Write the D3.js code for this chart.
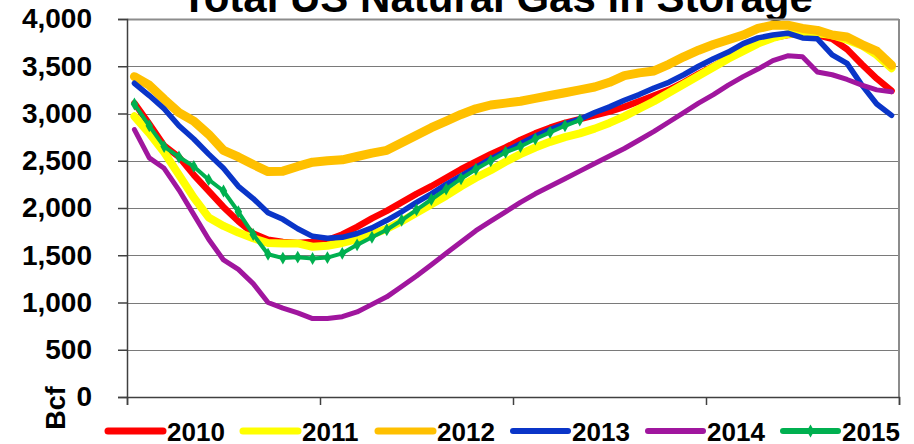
<!DOCTYPE html>
<html>
<head>
<meta charset="UTF-8">
<title>Total US Natural Gas in Storage</title>
<script src="https://d3js.org/d3.v7.min.js"></script>
<style>
  body { margin: 0; background: #fff; }
  text { font-family: Arial, "Liberation Sans", sans-serif; font-weight: bold; }
</style>
</head>
<body>
<div id="chart"></div>
<script>

// Weekly storage, Bcf (52 weeks per year)

var weeks = d3.range(1, 53);
var years = ["2010", "2011", "2012", "2013", "2014", "2015"];

var s2010 = [3110, 2890, 2660, 2540, 2350, 2180, 2010, 1860, 1730, 1665, 1640, 1630, 1640, 1660, 1720, 1800, 1890, 1970, 2060, 2150,
             2230, 2320, 2410, 2490, 2570, 2640, 2720, 2790, 2850, 2900, 2940, 2980, 3020, 3070, 3130, 3190, 3250, 3330, 3420, 3500,
             3590, 3670, 3740, 3800, 3830, 3840, 3830, 3790, 3680, 3520, 3370, 3240];
var s2011 = [2970, 2790, 2590, 2350, 2110, 1900, 1810, 1740, 1680, 1630, 1625, 1625, 1590, 1600, 1630, 1670, 1720, 1780, 1860, 1950,
             2040, 2130, 2230, 2320, 2400, 2490, 2570, 2640, 2700, 2750, 2790, 2840, 2900, 2970, 3050, 3130, 3220, 3310, 3400, 3490,
             3580, 3660, 3740, 3800, 3840, 3850, 3850, 3830, 3780, 3720, 3620, 3480];
var s2012 = [3390, 3300, 3150, 3010, 2920, 2780, 2610, 2540, 2460, 2385, 2390, 2440, 2485, 2500, 2510, 2545, 2580, 2610, 2690, 2770,
             2850, 2920, 2990, 3050, 3090, 3110, 3130, 3160, 3190, 3220, 3250, 3280, 3330, 3400, 3430, 3450, 3520, 3600, 3670, 3730,
             3780, 3830, 3900, 3935, 3935, 3900, 3880, 3830, 3810, 3730, 3660, 3510];
var s2013 = [3320, 3190, 3050, 2870, 2730, 2570, 2420, 2230, 2100, 1950, 1880, 1780, 1700, 1680, 1690, 1730, 1790, 1870, 1960, 2060,
             2150, 2250, 2340, 2430, 2520, 2600, 2680, 2760, 2830, 2890, 2940, 3010, 3070, 3140, 3200, 3270, 3330, 3410, 3500, 3580,
             3650, 3740, 3800, 3830, 3850, 3800, 3790, 3620, 3530, 3300, 3100, 2980];
var s2014 = [2830, 2530, 2420, 2190, 1930, 1670, 1450, 1350, 1200, 1000, 940, 890, 830, 830, 850, 900, 980, 1060, 1170, 1280,
             1400, 1520, 1640, 1760, 1860, 1960, 2060, 2150, 2230, 2310, 2390, 2470, 2550, 2630, 2720, 2810, 2910, 3010, 3110, 3200,
             3300, 3390, 3470, 3560, 3610, 3600, 3440, 3410, 3360, 3300, 3250, 3230];
var s2015 = [3100, 2870, 2650, 2540, 2440, 2300, 2180, 1960, 1720, 1510, 1470, 1480, 1465, 1475, 1520, 1610, 1690, 1770, 1870, 1980,
             2090, 2200, 2310, 2410, 2500, 2590, 2650, 2730, 2800, 2870, 2930];

var yTicks = [0, 500, 1000, 1500, 2000, 2500, 3000, 3500, 4000];
var quarterTicks = [0, 13, 26, 39, 52];

var seriesValues = [s2010, s2011, s2012, s2013, s2014, s2015];
var colors = ["#ff0000", "#ffff00", "#ffc000", "#0a35c8", "#a0169e", "#00b050"];
var widths = [6.5, 8, 9, 5.5, 5, 4];

// Sizes

var w = 914;
var h = 444;
var margin = {top: 19, right: 15, bottom: 47, left: 127};
var innerW = w - margin.left - margin.right;
var innerH = h - margin.top - margin.bottom;

var svg = d3.select("#chart")
    .append("svg")
    .attr("width", w)
    .attr("height", h);

var x = d3.scaleBand()
    .domain(weeks)
    .range([margin.left, margin.left + innerW]);

var xEdge = d3.scaleLinear()
    .domain([0, 52])
    .range([margin.left, margin.left + innerW]);

var y = d3.scaleLinear()
    .domain([0, 4000])
    .range([margin.top + innerH, margin.top]);

// Title (cut off by the top of the picture, as in the original)

svg.append("text")
    .attr("x", 497)
    .attr("y", 12)
    .attr("text-anchor", "middle")
    .attr("font-size", "42px")
    .text("Total US Natural Gas in Storage");

// Gridlines

svg.append("g")
    .selectAll("line")
    .data(yTicks.slice(1))
    .enter()
    .append("line")
    .attr("x1", margin.left)
    .attr("x2", margin.left + innerW)
    .attr("y1", function(d) { return Math.round(y(d)) + 0.5; })
    .attr("y2", function(d) { return Math.round(y(d)) + 0.5; })
    .attr("stroke", function(d) { return d === 4000 ? "#8c8c8c" : "#7a7a7a"; })
    .attr("stroke-width", function(d) { return d === 4000 ? 2 : 1; });

// Right border of plot area

svg.append("line")
    .attr("x1", margin.left + innerW)
    .attr("x2", margin.left + innerW)
    .attr("y1", margin.top)
    .attr("y2", margin.top + innerH)
    .attr("stroke", "#8c8c8c")
    .attr("stroke-width", 2);

// Axes

var yAxis = d3.axisLeft(y)
    .tickValues(yTicks)
    .tickSize(9)
    .tickPadding(26)
    .tickFormat(d3.format(","));

var yg = svg.append("g")
    .attr("transform", "translate(" + margin.left + ",0)")
    .call(yAxis);
yg.selectAll("text")
    .attr("font-size", "28px")
    .attr("font-family", "Arial, 'Liberation Sans', sans-serif")
    .attr("font-weight", "bold")
    .attr("fill", "#000");
yg.selectAll("line, path").attr("stroke", "#404040").attr("stroke-width", 1.5);

var xAxis = d3.axisBottom(xEdge)
    .tickValues(quarterTicks)
    .tickSize(8)
    .tickFormat("");

var xg = svg.append("g")
    .attr("transform", "translate(0," + (margin.top + innerH) + ")")
    .call(xAxis);
xg.selectAll("line, path").attr("stroke", "#404040").attr("stroke-width", 1.5);

// Axis title

svg.append("text")
    .attr("transform", "translate(65,408) rotate(-90)")
    .attr("text-anchor", "middle")
    .attr("font-size", "27px")
    .text("Bcf");

// Lines

var line = d3.line()
    .x(function(d, i) { return x(weeks[i]) + x.bandwidth() / 2; })
    .y(function(d) { return y(d); });

var diamond = d3.symbol().type(d3.symbolDiamond).size(48);

seriesValues.forEach(function(vals, k) {
    svg.append("path")
        .datum(vals)
        .attr("fill", "none")
        .attr("stroke", colors[k])
        .attr("stroke-width", widths[k])
        .attr("stroke-linejoin", "round")
        .attr("stroke-linecap", "round")
        .attr("d", line);
});

// Markers for 2015

svg.append("g")
    .selectAll("path")
    .data(s2015)
    .enter()
    .append("path")
    .attr("d", diamond)
    .attr("fill", colors[5])
    .attr("transform", function(d, i) {
        return "translate(" + (x(weeks[i]) + x.bandwidth() / 2) + "," + y(d) + ")";
    });

// Legend

var legend = svg.append("g")
    .selectAll("g")
    .data(years)
    .enter()
    .append("g")
    .attr("transform", function(d, i) { return "translate(" + (108 + i * 135) + ",431)"; });

legend.append("line")
    .attr("x1", 0)
    .attr("x2", 55)
    .attr("stroke", function(d, i) { return colors[i]; })
    .attr("stroke-width", function(d, i) { return i < 3 ? 7 : 6; })
    .attr("stroke-linecap", "round");

legend.filter(function(d) { return d === "2015"; })
    .append("path")
    .attr("d", diamond)
    .attr("transform", "translate(27.5,0)")
    .attr("fill", colors[5]);

legend.append("text")
    .attr("x", 59)
    .attr("y", 9.5)
    .attr("font-size", "26px")
    .text(function(d) { return d; });

</script>
</body>
</html>
